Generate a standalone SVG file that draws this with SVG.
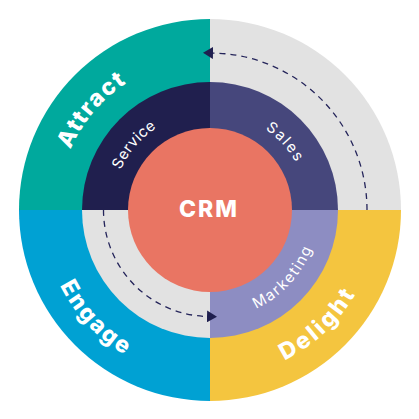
<svg xmlns="http://www.w3.org/2000/svg" width="419" height="419" viewBox="0 0 419 419">
<style>
.big{font-family:Inter,"Open Sans","Liberation Sans",sans-serif;font-weight:800;font-size:23px;fill:#fff;}
.small{font-family:Inter,"Open Sans","Liberation Sans",sans-serif;font-weight:400;font-size:15px;fill:#fff;}
.dash{fill:none;stroke:#24245A;stroke-width:1.3;stroke-dasharray:6 5;}
</style>
<defs>
<marker id="arrow" viewBox="0 0 10 12" refX="0" refY="6" markerWidth="10" markerHeight="12" markerUnits="userSpaceOnUse" orient="auto">
<path d="M0,0 L10,6 L0,12 Z" fill="#1F1F4F"/>
</marker>
<path id="pAttract" d="M58,210 A152,152 0 0 1 210,58"/>
<path id="pEngage" d="M42,210 A168,168 0 0 0 210,378"/>
<path id="pDelight" d="M210,378 A168,168 0 0 0 378,210"/>
<path id="pService" d="M112,210 A98,98 0 0 1 210,112"/>
<path id="pSales" d="M210,112 A98,98 0 0 1 308,210"/>
<path id="pMarketing" d="M210,319 A109,109 0 0 0 319,210"/>
</defs>
<rect width="419" height="419" fill="#fff"/>
<g id="attract">
<path d="M210,210 L19,210 A191,191 0 0 1 210,19 Z" fill="#00A99D"/>
<text class="big"><textPath href="#pAttract" startOffset="44.4%" text-anchor="middle" textLength="88" lengthAdjust="spacing">Attract</textPath></text>
</g>
<g id="outer-top-right">
<path d="M210,210 L210,19 A191,191 0 0 1 401,210 Z" fill="#E2E2E2"/>
</g>
<g id="delight">
<path d="M210,210 L401,210 A191,191 0 0 1 210,401 Z" fill="#F4C53F"/>
<text class="big"><textPath href="#pDelight" startOffset="47.8%" text-anchor="middle" textLength="98" lengthAdjust="spacing">Delight</textPath></text>
</g>
<g id="engage">
<path d="M210,210 L210,401 A191,191 0 0 1 19,210 Z" fill="#00A1D3"/>
<text class="big"><textPath href="#pEngage" startOffset="47.8%" text-anchor="middle" textLength="96" lengthAdjust="spacing">Engage</textPath></text>
</g>
<g id="service">
<path d="M210,210 L82,210 A128,128 0 0 1 210,82 Z" fill="#201F4E"/>
<text class="small"><textPath href="#pService" startOffset="45%" text-anchor="middle" textLength="56" lengthAdjust="spacing">Service</textPath></text>
</g>
<g id="sales">
<path d="M210,210 L210,82 A128,128 0 0 1 338,210 Z" fill="#46477C"/>
<text class="small"><textPath href="#pSales" startOffset="52.8%" text-anchor="middle" textLength="45" lengthAdjust="spacing">Sales</textPath></text>
</g>
<g id="marketing">
<path d="M210,210 L338,210 A128,128 0 0 1 210,338 Z" fill="#8D8DC2"/>
<text class="small"><textPath href="#pMarketing" startOffset="52.2%" text-anchor="middle" textLength="84" lengthAdjust="spacing">Marketing</textPath></text>
</g>
<g id="inner-bottom-left">
<path d="M210,210 L210,338 A128,128 0 0 1 82,210 Z" fill="#E2E2E2"/>
</g>
<g id="crm">
<circle cx="210" cy="210" r="82" fill="#E97563"/>
<text class="big" x="209" y="217" font-size="21" font-weight="900" text-anchor="middle" letter-spacing="2">CRM</text>
</g>
<g id="connectors">
<path class="dash" d="M367,210 A157,157 0 0 0 213,53.03" marker-end="url(#arrow)"/>
<path class="dash" d="M103.5,210 A106.5,106.5 0 0 0 207,316.46" marker-end="url(#arrow)"/>
</g>
</svg>
